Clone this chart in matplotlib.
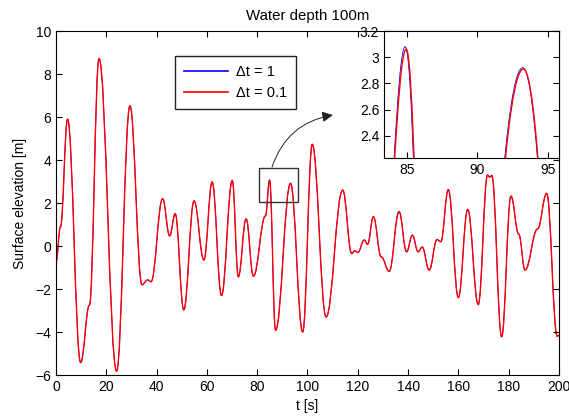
import matplotlib
matplotlib.use("Agg")
import matplotlib.pyplot as plt
from matplotlib.lines import Line2D
from matplotlib.path import Path
from matplotlib.patches import PathPatch, Rectangle
from matplotlib.ticker import FuncFormatter

plt.rcParams["font.family"] = ["Liberation Sans", "DejaVu Sans"]
plt.rcParams["font.size"] = 10

# turning points (crests, troughs, shoulders) of the record, dt = 0.1 s run
turn_t = [0.0, 1.8, 4.6, 9.8, 13.3, 17.1, 24.1, 29.4, 34.2, 36.4,
          37.8, 42.4, 45.2, 47.4, 50.8, 54.9, 58.8, 62.1, 65.8, 70.1,
          72.5, 75.6, 78.5, 83.3, 84.95, 87.3, 93.27, 98.1, 101.9, 107.4,
          114.0, 117.6, 118.8, 120.0, 122.6, 123.9, 126.2, 129.3, 132.5, 136.4,
          139.4, 141.7, 144.0, 145.6, 148.4, 151.5, 153.0, 156.0, 160.0, 163.7,
          167.9, 171.6, 172.5, 173.3, 177.2, 180.9, 184.0, 186.5, 191.5, 195.1,
          199.3, 200.0]
turn_eta = [-0.75, 0.9, 5.9, -5.42, -2.75, 8.72, -5.82, 6.52, -1.8, -1.58,
            -1.66, 2.2, 0.47, 1.5, -2.97, 2.1, -0.65, 2.98, -2.3, 3.05,
            -1.43, 1.26, -1.4, 1.4, 3.06, -3.92, 2.91, -4.0, 4.73, -3.3,
            2.6, -0.35, -0.22, -0.3, 0.28, 0.08, 1.36, -0.5, -1.18, 1.6,
            -0.27, 0.5, -0.27, -0.05, -1.12, 0.3, 0.2, 2.62, -2.4, 1.7,
            -2.72, 3.3, 3.2, 3.28, -4.22, 2.32, 0.55, -1.12, 0.8, 2.45,
            -4.2, -4.15]

# the dt = 1 s run only departs visibly at the two zoomed crests
dt1_crests = {84.95: (84.88, 3.08), 93.27: (93.22, 2.92)}

series_labels = ["\u0394t = 1", "\u0394t = 0.1"]
series_colors = ["#0000ff", "#ff0000"]
series_widths = [0.6, 1.0]


def wave_path(ts, etas, c=0.4):
    verts = [(ts[0], etas[0])]
    codes = [Path.MOVETO]
    for t0, e0, t1, e1 in zip(ts, etas, ts[1:], etas[1:]):
        h = c * (t1 - t0)
        verts += [(t0 + h, e0), (t1 - h, e1), (t1, e1)]
        codes += [Path.CURVE4] * 3
    return Path(verts, codes)


dt1_t = [dt1_crests.get(t, (t, e))[0] for t, e in zip(turn_t, turn_eta)]
dt1_eta = [dt1_crests.get(t, (t, e))[1] for t, e in zip(turn_t, turn_eta)]
runs = [(dt1_t, dt1_eta), (turn_t, turn_eta)]

fig = plt.figure(figsize=(5.69, 4.19), dpi=100)
ax = fig.add_axes([0.0984, 0.105, 0.884, 0.821])

for (ts, es), col, lw in zip(runs, series_colors, series_widths):
    ax.add_patch(PathPatch(wave_path(ts, es), fill=False, edgecolor=col, lw=lw))

ax.set_xlim(0, 200)
ax.set_ylim(-6, 10)
ax.set_xticks(range(0, 201, 20))
ax.set_yticks(range(-6, 11, 2))
ax.tick_params(direction="in", top=True, right=True, length=4, width=0.8)
for sp in ax.spines.values():
    sp.set_linewidth(0.8)
ax.set_xlabel("t [s]", labelpad=4)
ax.set_ylabel("Surface elevation [m]", labelpad=6)
ax.set_title("Water depth 100m", fontsize=10.8, pad=8)

ax.add_patch(Rectangle((80.8, 2.06), 15.5, 1.55, fill=False, ec="#333333", lw=1.0))
ax.annotate("", xy=(110.1, 6.09), xytext=(85.9, 3.67),
            arrowprops=dict(arrowstyle="-|>", color="#222222", lw=0.7, mutation_scale=16,
                            connectionstyle="arc3,rad=-0.3", shrinkA=0, shrinkB=0))

handles = [Line2D([], [], color=c, lw=1.2) for c in series_colors]
leg = ax.legend(handles, series_labels, loc="upper left", bbox_to_anchor=(0.237, 0.927),
                borderaxespad=0, fancybox=False, edgecolor="#222222", framealpha=1,
                fontsize=10.5, handlelength=3.0, handletextpad=0.6, borderpad=0.6,
                labelspacing=0.5)
leg.get_frame().set_linewidth(1.0)

ins = fig.add_axes([0.6749, 0.6229, 0.3076, 0.3031])
for (ts, es), col, lw in zip(runs, series_colors, series_widths):
    ins.add_patch(PathPatch(wave_path(ts, es), fill=False, edgecolor=col, lw=lw))
ins.set_xlim(83.37, 95.8)
ins.set_ylim(2.23, 3.2)
ins.set_xticks([85, 90, 95])
ins.set_yticks([2.4, 2.6, 2.8, 3.0, 3.2])
ins.yaxis.set_major_formatter(FuncFormatter(lambda v, p: "%g" % round(v, 2)))
ins.tick_params(direction="in", top=True, right=True, length=4, width=0.8)
for sp in ins.spines.values():
    sp.set_linewidth(0.8)

fig.savefig("out.png", dpi=100)
